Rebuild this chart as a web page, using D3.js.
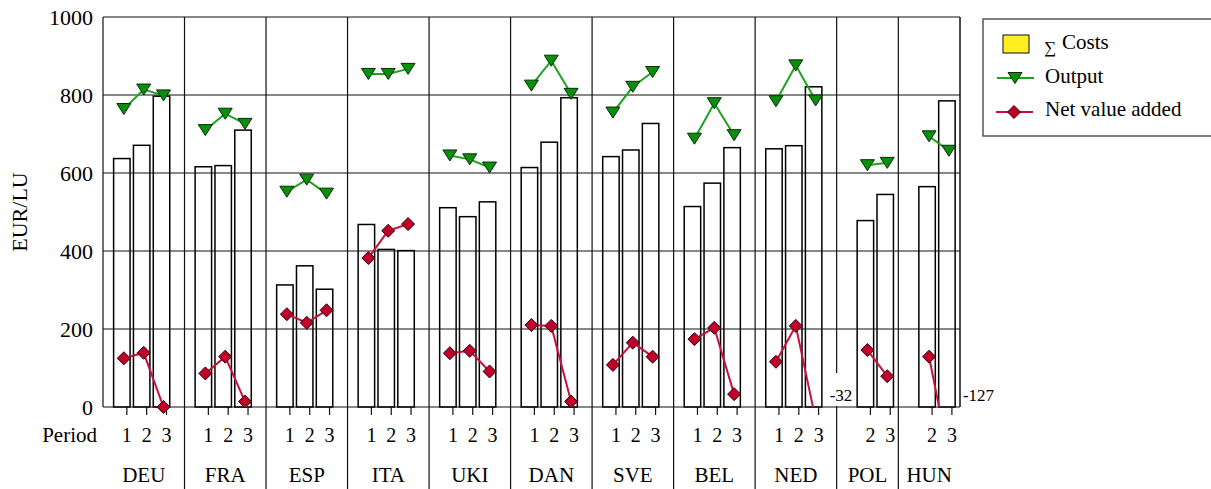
<!DOCTYPE html>
<html><head><meta charset="utf-8">
<script src="https://cdn.jsdelivr.net/npm/d3@7"></script>
<style>body{margin:0;background:#fff} svg{display:block}</style>
</head><body>
<svg id="c" width="1211" height="489"></svg>
<script>
const countries = ["DEU","FRA","ESP","ITA","UKI","DAN","SVE","BEL","NED","POL","HUN"];
const periods = [[1,2,3],[1,2,3],[1,2,3],[1,2,3],[1,2,3],[1,2,3],[1,2,3],[1,2,3],[1,2,3],[2,3],[2,3]];
const costs = [[637,671,797],[616,619,710],[313,362,302],[468,404,401],[511,488,526],[614,679,793],[642,659,727],[514,574,665],[662,670,821],[478,545],[565,785]];
const output = [[764,814,799],[710,752,726],[552,583,547],[854,854,867],[645,635,614],[824,888,803],[755,821,859],[688,779,697],[784,876,786],[620,626],[694,657]];
const netValueAdded = [[125,139,0],[86,129,14],[238,216,248],[382,452,469],[138,144,91],[210,208,14],[108,165,129],[174,203,33],[116,208,-32],[146,79],[129,-127]];
const yTicks = [0,200,400,600,800,1000];
const legendLabels = ["Costs","Output","Net value added"];

const FONT = '"Liberation Serif"';
const GREEN_FILL = "#0a8f0a", GREEN_LINE = "#1ea31e";
const RED_FILL = "#c0002a", RED_LINE = "#c8103c";

const svg = d3.select("#c");
const L = 103, R = 960, T = 17, B = 407, BOTTOM = 489;
const y = d3.scaleLinear().domain([0,1000]).range([B,T]);

const padU = 1.11;
const widthsU = periods.map(p => p.length + padU);
const starts = [0, ...d3.cumsum(widthsU)];
const totalU = d3.sum(widthsU);
const x = d3.scaleLinear().domain([0,totalU]).range([L,R]);
const leftPad = n => n === 3 ? 0.45 : 0.95;
const bw = x(0.83) - x(0);

const items = [];
countries.forEach((c,g) => {
  periods[g].forEach((p,i) => {
    const cu = starts[g] + leftPad(periods[g].length) + i + 0.5;
    items.push({g, i, period:p, cost:costs[g][i], out:output[g][i], nva:netValueAdded[g][i], cx:x(cu)});
  });
});

// bars
svg.append("g").selectAll("rect").data(items).join("rect")
  .attr("x", d => d.cx - bw/2).attr("width", bw)
  .attr("y", d => y(d.cost)).attr("height", d => B - y(d.cost))
  .attr("fill", "#fff").attr("stroke", "#000").attr("stroke-width", 1.5);

// gridlines
svg.append("g").selectAll("line").data(yTicks).join("line")
  .attr("x1", L).attr("x2", R).attr("y1", d => y(d)).attr("y2", d => y(d))
  .attr("stroke", "#111").attr("stroke-width", 1.2);

// borders
svg.append("line").attr("x1", L).attr("x2", L).attr("y1", T).attr("y2", B).attr("stroke", "#111").attr("stroke-width", 1.2);
svg.append("line").attr("x1", R).attr("x2", R).attr("y1", T).attr("y2", B).attr("stroke", "#111").attr("stroke-width", 1.5);

// separators
svg.append("g").selectAll("line").data(d3.range(1, countries.length)).join("line")
  .attr("x1", g => x(starts[g])).attr("x2", g => x(starts[g]))
  .attr("y1", T).attr("y2", BOTTOM)
  .attr("stroke", "#111").attr("stroke-width", 1.2);

// y axis labels
const ya = svg.append("g").attr("transform", `translate(${L},0)`)
  .call(d3.axisLeft(y).tickValues(yTicks).tickFormat(d3.format("d")).tickSize(0).tickPadding(10));
ya.attr("font-family", null).attr("font-size", null);
ya.select(".domain").remove();
ya.selectAll("text").style("font-size", "22px").attr("fill", "#000");

svg.append("text").attr("transform", `translate(27,${(T+B)/2}) rotate(-90)`)
  .attr("text-anchor", "middle").style("font-size", "22px").text("EUR/LU");

// period ticks and labels
svg.append("g").selectAll("line").data(items).join("line")
  .attr("x1", d => d.cx + 5).attr("x2", d => d.cx + 5).attr("y1", B).attr("y2", B + 8)
  .attr("stroke", "#111").attr("stroke-width", 1.2);
svg.append("g").selectAll("text").data(items).join("text")
  .attr("x", d => d.cx + 5).attr("y", 442).attr("text-anchor", "middle")
  .style("font-size", "20px").text(d => d.period);
svg.append("text").attr("x", 97).attr("y", 442).attr("text-anchor", "end")
  .style("font-size", "21px").text("Period");

// category labels
svg.append("g").selectAll("text").data(countries).join("text")
  .attr("x", (c,g) => x((starts[g] + starts[g+1]) / 2)).attr("y", 482)
  .attr("text-anchor", "middle").style("font-size", "21px").text(c => c);

// labels for values below the axis minimum
const neg = items.filter(d => d.nva < 0);
const negG = svg.append("g");
neg.forEach(d => {
  const tx = d.cx + 16;
  const t = negG.append("text").attr("x", tx).attr("y", B - 6)
    .style("font-family", FONT).style("font-size", "17px").text(d.nva);
  const bb = t.node().getBBox();
  negG.insert("rect", "text").attr("x", tx - 1).attr("y", B - 34)
    .attr("width", bb.width + 4).attr("height", 33).attr("fill", "#fff");
});

// clip
svg.append("clipPath").attr("id", "clip").append("rect")
  .attr("x", L).attr("y", T - 10).attr("width", R - L).attr("height", B - T + 10);

const groups = d3.groups(items, d => d.g).map(e => e[1]);
const lineOut = d3.line().x(d => d.cx + 2).y(d => y(d.out));
const lineNva = d3.line().x(d => d.cx + 2).y(d => y(d.nva));
const lg = svg.append("g").attr("clip-path", "url(#clip)");
lg.selectAll("path.o").data(groups).join("path").attr("class", "o")
  .attr("d", lineOut).attr("fill", "none").attr("stroke", GREEN_LINE).attr("stroke-width", 2);
lg.selectAll("path.n").data(groups).join("path").attr("class", "n")
  .attr("d", lineNva).attr("fill", "none").attr("stroke", RED_LINE).attr("stroke-width", 2);

const triPath = "M-7,-5.5L7,-5.5L0,5.5Z";
const diaPath = "M0,-6.5L6.5,0L0,6.5L-6.5,0Z";
svg.append("g").selectAll("path").data(items).join("path")
  .attr("d", triPath).attr("transform", d => `translate(${d.cx + 2},${y(d.out)})`)
  .attr("fill", GREEN_FILL).attr("stroke", "#0a2a0a").attr("stroke-width", 1);
svg.append("g").selectAll("path").data(items.filter(d => d.nva >= 0)).join("path")
  .attr("d", diaPath).attr("transform", d => `translate(${d.cx + 2},${y(d.nva)})`)
  .attr("fill", RED_FILL).attr("stroke", "#2a0008").attr("stroke-width", 1);

// legend
const lgd = svg.append("g");
lgd.append("rect").attr("x", 983).attr("y", 19).attr("width", 240).attr("height", 117)
  .attr("fill", "#fff").attr("stroke", "#555").attr("stroke-width", 1.5);
lgd.append("rect").attr("x", 1003).attr("y", 35).attr("width", 26).attr("height", 18)
  .attr("fill", "#ffee22").attr("stroke", "#333").attr("stroke-width", 1.2);
lgd.append("text").attr("x", 1044).attr("y", 53).style("font-size", "17px").text("\u2211");
lgd.append("text").attr("x", 1062).attr("y", 49).style("font-size", "21px").text(legendLabels[0]);
lgd.append("line").attr("x1", 997).attr("x2", 1034).attr("y1", 78).attr("y2", 78).attr("stroke", GREEN_LINE).attr("stroke-width", 2);
lgd.append("path").attr("d", triPath).attr("transform", "translate(1015,78)")
  .attr("fill", GREEN_FILL).attr("stroke", "#0a2a0a").attr("stroke-width", 1);
lgd.append("text").attr("x", 1045).attr("y", 83).style("font-size", "21px").text(legendLabels[1]);
lgd.append("line").attr("x1", 996).attr("x2", 1033).attr("y1", 112).attr("y2", 112).attr("stroke", RED_LINE).attr("stroke-width", 2);
lgd.append("path").attr("d", diaPath).attr("transform", "translate(1014,112)")
  .attr("fill", RED_FILL).attr("stroke", "#2a0008").attr("stroke-width", 1);
lgd.append("text").attr("x", 1045).attr("y", 116).style("font-size", "21px").text(legendLabels[2]);

svg.selectAll("text").style("font-family", FONT);
</script>
</body></html>
